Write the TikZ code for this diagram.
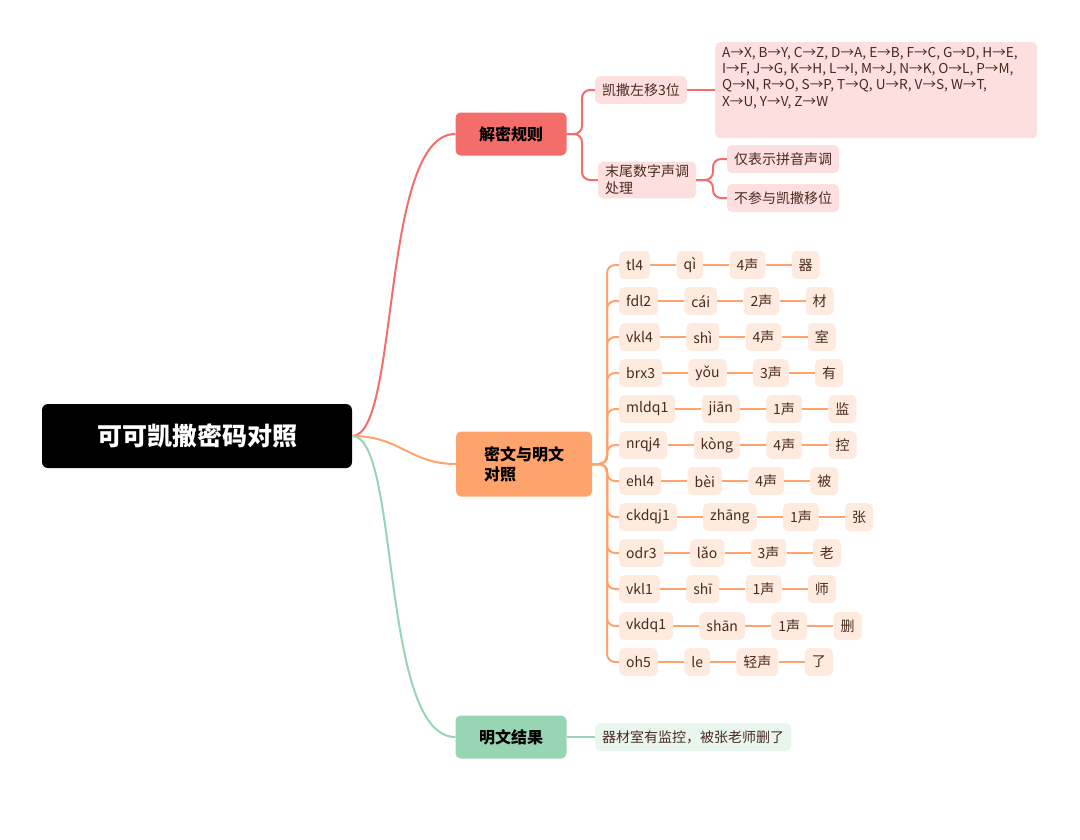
\documentclass[tikz,border=0pt]{standalone}
\usepackage{fontspec}
\setmainfont{Noto Sans CJK SC}
\usetikzlibrary{positioning}
\definecolor{rootc}{HTML}{000000}
\definecolor{redc}{HTML}{F36D6B}
\definecolor{redl}{HTML}{FDDFDF}
\definecolor{orac}{HTML}{FFA36C}
\definecolor{oral}{HTML}{FFEADF}
\definecolor{grnc}{HTML}{97D5B5}
\definecolor{grnl}{HTML}{E9F6EE}
\definecolor{txt}{HTML}{4A2A1E}
\tikzset{
  root/.style={fill=rootc,text=white,rounded corners=6pt,minimum width=310pt,minimum height=64pt,font=\fontsize{25}{30}\selectfont\bfseries},
  topic/.style={fill=#1,text=black,rounded corners=5pt,minimum height=43pt,minimum width=111pt,inner xsep=18pt,font=\fontsize{16}{20}\selectfont\bfseries,align=left},
  leaf/.style={fill=#1,text=txt,rounded corners=5pt,minimum height=28pt,inner xsep=7pt,font=\fontsize{14}{17}\selectfont,align=left},
  cell/.style={leaf=oral,minimum width=0pt},
  link/.style={line width=2pt,draw=#1},
  branch/.style={line width=2pt,draw=#1,rounded corners=8pt}
}
\begin{document}
\begin{tikzpicture}[x=1pt,y=-1pt]
\useasboundingbox (0,0) rectangle (1080,839);
%% main topics
\node[root] (root) at (197,436) {可可凯撒密码对照};
\node[topic=redc] (rule) at (511,134) {解密规则};
\node[topic=orac,minimum width=136pt,minimum height=65pt] (pair) at (524,464) {密文与明文\\对照};
\node[topic=grnc] (res) at (511,737) {明文结果};
% root to topics
\draw[link=redc] (root.east) .. controls (400,436) and (380,134) .. (rule.west);
\draw[link=orac] (root.east) .. controls (400,436) and (410,464) .. (pair.west);
\draw[link=grnc] (root.east) .. controls (400,436) and (380,737) .. (res.west);
%% decryption rule
\node[leaf=redl] (shift) at (641,90) {凯撒左移3位};
\node[fill=redl,rounded corners=5pt,anchor=north west,minimum width=322pt,minimum height=96pt] (map) at (715,42) {};
\node[text=txt,anchor=north west,align=left,inner sep=0pt,font=\fontsize{13.6}{16.3}\selectfont] (maptext) at (722,47)
  {A→X, B→Y, C→Z, D→A, E→B, F→C, G→D, H→E,\\ I→F, J→G, K→H, L→I, M→J, N→K, O→L, P→M,\\ Q→N, R→O, S→P, T→Q, U→R, V→S, W→T,\\ X→U, Y→V, Z→W};
\node[leaf=redl] (tone) at (647,180) {末尾数字声调\\处理};
\node[leaf=redl] (tonea) at (783,159) {仅表示拼音声调};
\node[leaf=redl] (toneb) at (783,198) {不参与凯撒移位};
\draw[branch=redc] (rule.east) -- (582,134) |- (shift.west);
\draw[branch=redc] (rule.east) -- (582,134) |- (tone.west);
\draw[link=redc] (shift.east) -- (map.west |- shift.east);
\draw[branch=redc] (tone.east) -- (713,180) |- (tonea.west);
\draw[branch=redc] (tone.east) -- (713,180) |- (toneb.west);
%% cipher rows
\foreach \c/\p/\t/\h/\y [count=\i] in {tl4/qì/4声/器/265, fdl2/cái/2声/材/301, vkl4/shì/4声/室/337, brx3/yǒu/3声/有/373,
  mldq1/jiān/1声/监/409, nrqj4/kòng/4声/控/445, ehl4/bèi/4声/被/481, ckdqj1/zhāng/1声/张/517,
  odr3/lǎo/3声/老/553, vkl1/shī/1声/师/589, vkdq1/shān/1声/删/626, oh5/le/轻声/了/662}{
  \node[cell,anchor=west] (c\i) at (619,\y) {\c};
  \node[cell,right=26pt of c\i] (p\i) {\p};
  \node[cell,right=26pt of p\i] (t\i) {\t};
  \node[cell,right=26pt of t\i] (h\i) {\h};
  \draw[branch=orac] (pair.east) -- (607,464) |- (c\i.west);
  \draw[link=orac] (c\i) -- (p\i);
  \draw[link=orac] (p\i) -- (t\i);
  \draw[link=orac] (t\i) -- (h\i);
}
%% result
\node[leaf=grnl,anchor=west] (plain) at (595,737) {器材室有监控，被张老师删了};
\draw[link=grnc] (res.east) -- (plain.west);
\end{tikzpicture}
\end{document}
